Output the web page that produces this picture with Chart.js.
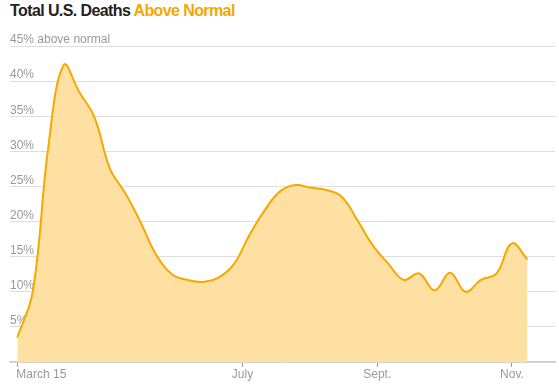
<!DOCTYPE html>
<html>
<head>
<meta charset="utf-8">
<script src="https://cdn.jsdelivr.net/npm/chart.js@4"></script>
<style>
  html, body { margin: 0; padding: 0; background: #fff; }
  #wrap { position: relative; width: 559px; height: 390px; }
  #title { position: absolute; left: 10px; top: 2px; font-family: "Liberation Sans", Arial, sans-serif; font-weight: bold; font-size: 16px; color: #222; letter-spacing: -0.6px; }
  #title span { color: #f7a600; }
  canvas { position: absolute; left: 0; top: 0; }
</style>
</head>
<body>
<div id="wrap">
  <div id="title">Total U.S. Deaths <span>Above Normal</span></div>
  <canvas id="c" width="559" height="390"></canvas>
</div>
<script>
// Weekly data: day offsets from the first week, and % above normal
const weekDays = [0,7,14,21,28,35,42,49,56,63,70,77,84,91,98,105,112,119,126,133,140,147,154,161,168,175,182,189,196,203,210,217,224,231];
const pctAboveNormal = [3.5,10,30.5,42.3,38.5,34.8,27.5,24,19.8,15.2,12.5,11.7,11.4,12,13.9,18,21.6,24.3,25.2,24.8,24.5,23.5,20.2,16.6,14,11.7,12.6,10.2,12.7,10,11.7,12.6,16.9,14.6];
const xTickDays = [0,102,163,224];
const xTickLabels = ['March 15','July','Sept.','Nov.'];
const yTickValues = [0,5,10,15,20,25,30,35,40,45];

const tickFont = '"Liberation Sans Narrow", "Liberation Sans", Arial, sans-serif';
const points = weekDays.map((d, i) => ({ x: d, y: pctAboveNormal[i] }));

const xLabelPlugin = {
  id: 'xLabels',
  afterDraw(chart) {
    const xs = chart.scales.x;
    const ctx = chart.ctx;
    ctx.save();
    ctx.font = '12px ' + tickFont;
    ctx.fillStyle = '#999';
    ctx.textBaseline = 'middle';
    xTickDays.forEach((d, i) => {
      const px = xs.getPixelForValue(d);
      ctx.textAlign = i === 0 ? 'left' : 'center';
      ctx.fillText(xTickLabels[i], i === 0 ? px - 1 : px, xs.top + 13);
    });
    ctx.restore();
  }
};

new Chart(document.getElementById('c'), {
  type: 'line',
  data: {
    datasets: [{
      data: points,
      borderColor: '#f7a800',
      borderWidth: 2,
      backgroundColor: '#fde0a2',
      fill: 'origin',
      tension: 0.4,
      pointRadius: 0
    }]
  },
  options: {
    responsive: false,
    animation: false,
    layout: { padding: { left: 10, right: 4, top: 46, bottom: 23 } },
    plugins: { legend: { display: false }, tooltip: { enabled: false } },
    scales: {
      x: {
        type: 'linear',
        min: -3.3,
        max: 243.5,
        afterBuildTicks(scale) { scale.ticks = xTickDays.map(v => ({ value: v })); },
        grid: { drawOnChartArea: false, drawTicks: true, tickLength: 5, color: '#999' },
        border: { display: true, color: '#ccc', width: 1.5 },
        ticks: { display: false }
      },
      y: {
        min: 0,
        max: 45,
        afterBuildTicks(scale) { scale.ticks = yTickValues.map(v => ({ value: v })); },
        grid: { color: '#ddd', lineWidth: 1, drawTicks: false },
        border: { display: false },
        ticks: {
          mirror: true,
          padding: 0,
          labelOffset: -6,
          color: '#999',
          font: { family: tickFont, size: 12 },
          callback: (v) => v === 0 ? '' : (v === 45 ? '45% above normal' : v + '%')
        }
      }
    }
  },
  plugins: [xLabelPlugin]
});
</script>
</body>
</html>
